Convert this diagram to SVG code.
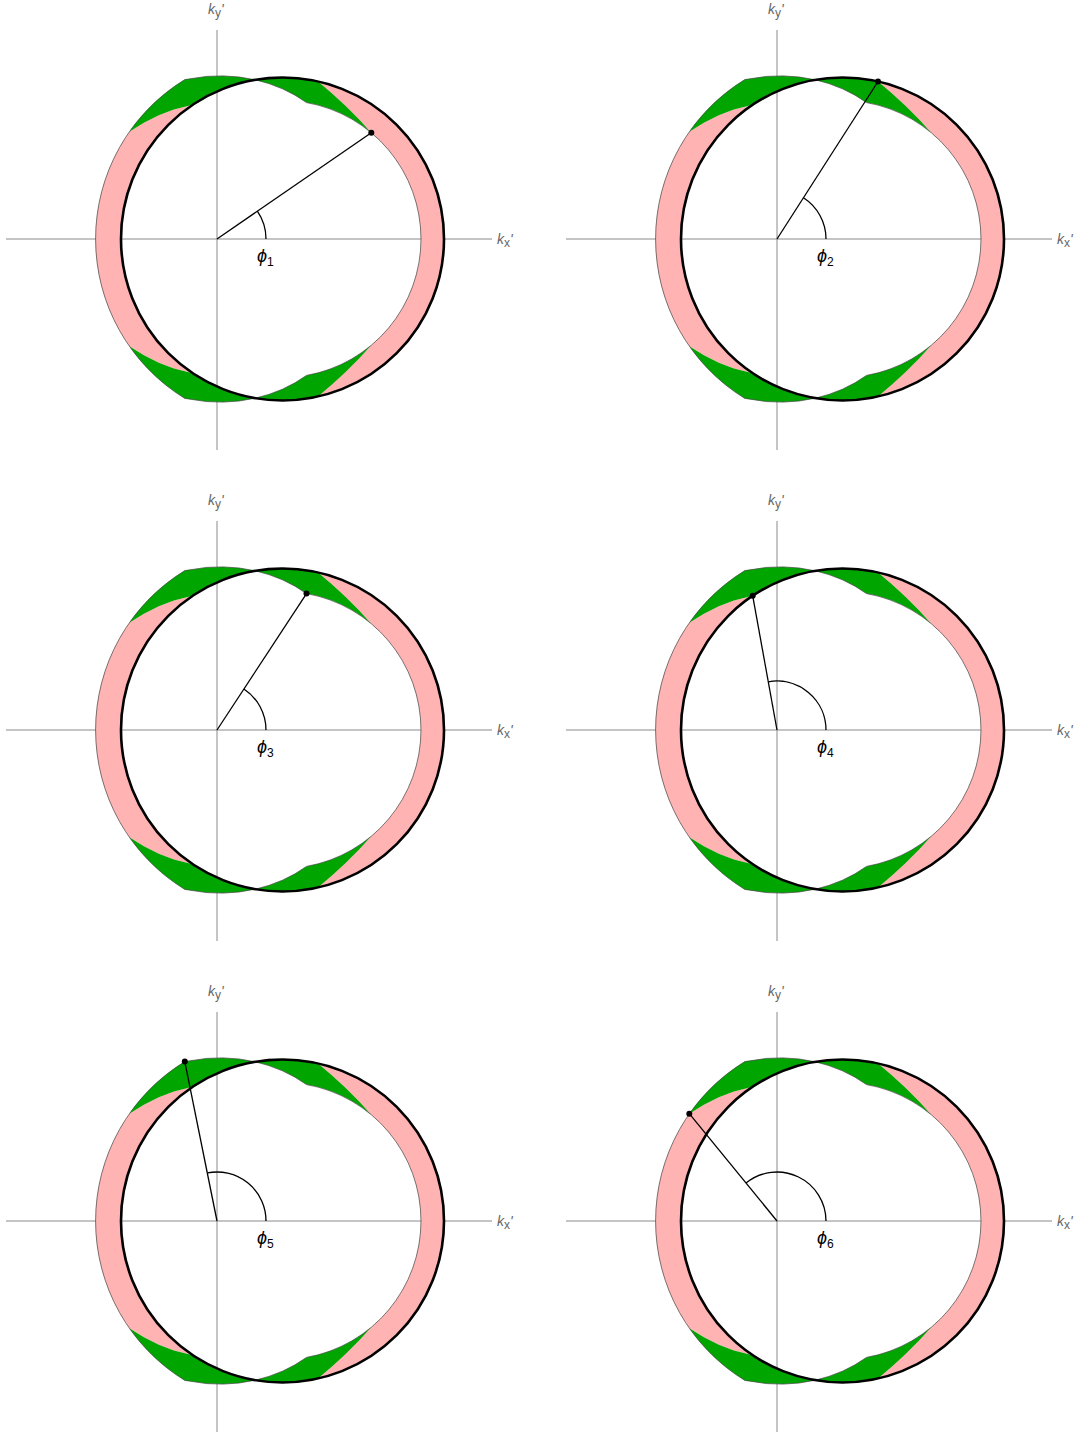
<svg xmlns="http://www.w3.org/2000/svg" width="1080" height="1435" viewBox="0 0 1080 1435">
<style>
.ax{stroke:#8a8a8a;stroke-width:1;fill:none}
.pink{fill:#ffb3b3}
.green{fill:#00a500}
.outl{fill:none;stroke:#444;stroke-width:0.7;stroke-linejoin:round}
.fs{fill:none;stroke:#000;stroke-width:2.6}
.rad{stroke:#000;stroke-width:1.3;fill:none}
.dot{fill:#000}
.lab{font-family:"Liberation Sans",Arial,sans-serif;font-style:italic;font-size:14px;fill:#666}
.phi{font-family:"Liberation Sans","DejaVu Sans",sans-serif;font-style:italic;font-size:18px;fill:#000}
.sub{font-size:12px;font-style:normal}
</style>
<defs>
<g id="gtop">
<path class="green" d="M-87.7,-107.3 A187,187 0 0 1 -32.2,-159.4 L-10.3,-162.6 L6.1,-163.1 L22.1,-162.0 L38.3,-159.2 A161.5,161.5 0 0 0 -24.3,-134.2 L-43.1,-129.5 L-58.2,-123.7 L-73.1,-116.3 Z"/>
<path class="green" d="M38.3,-159.2 A161.5,161.5 0 0 1 101,-157.5 Q129.8,-134.1 154.3,-106.3 A138.5,138.5 0 0 0 89.5,-136.4 L78.1,-143.8 L65.5,-150.2 L51.9,-155.4 Z"/>
</g>
<g id="frame">
<line class="ax" x1="-211" y1="0" x2="275" y2="0"/>
<line class="ax" x1="0" y1="-209" x2="0" y2="211"/>
<text class="lab" x="-9" y="-225">k<tspan class="sub" font-style="italic" dy="3">y</tspan><tspan dy="-3">'</tspan></text>
<text class="lab" x="280" y="5">k<tspan class="sub" font-style="italic" dy="3">x</tspan><tspan dy="-3">'</tspan></text>
<path class="pink" d="M-87.7,-107.3 A187,187 0 0 0 -87.7,107.3 L-73.1,116.3 L-58.2,123.7 L-43.1,129.5 L-24.3,134.2 A161.5,161.5 0 0 1 -24.3,-134.2 L-43.1,-129.5 L-58.2,-123.7 L-73.1,-116.3 Z"/>
<path class="pink" d="M101,-157.5 A161.5,161.5 0 0 1 101,157.5 Q129.8,134.1 154.3,106.3 A138.5,138.5 0 0 0 154.3,-106.3 Q129.8,-134.1 101,-157.5 Z"/>
<use href="#gtop"/>
<use href="#gtop" transform="scale(1,-1)"/>
<path class="outl" d="M-32.2,-159.4 A187,187 0 0 0 -32.2,159.4 L-10.3,162.6 L6.1,163.1 L22.1,162.0 L38.3,159.2 L51.9,155.4 L65.5,150.2 L78.1,143.8 L89.5,136.4 A138.5,138.5 0 0 0 89.5,-136.4 L78.1,-143.8 L65.5,-150.2 L51.9,-155.4 L38.3,-159.2 L22.1,-162.0 L6.1,-163.1 L-10.3,-162.6 Z"/>
<circle class="fs" cx="65.5" cy="0" r="161.5"/>
</g>
</defs>
<g id="panel1" transform="translate(217,239)">
<use href="#frame"/>
<line class="rad" x1="0" y1="0" x2="154.3" y2="-106.3"/>
<path class="rad" d="M49,0 A49,49 0 0 0 40.35,-27.79"/>
<circle class="dot" cx="154.3" cy="-106.3" r="3"/>
<text class="phi" x="40" y="23">ϕ<tspan class="sub" dy="4">1</tspan></text>
</g>
<g id="panel2" transform="translate(777,239)">
<use href="#frame"/>
<line class="rad" x1="0" y1="0" x2="101" y2="-157.5"/>
<path class="rad" d="M49,0 A49,49 0 0 0 26.45,-41.25"/>
<circle class="dot" cx="101" cy="-157.5" r="3"/>
<text class="phi" x="40" y="23">ϕ<tspan class="sub" dy="4">2</tspan></text>
</g>
<g id="panel3" transform="translate(217,730)">
<use href="#frame"/>
<line class="rad" x1="0" y1="0" x2="89.5" y2="-136.4"/>
<path class="rad" d="M49,0 A49,49 0 0 0 26.88,-40.97"/>
<circle class="dot" cx="89.5" cy="-136.4" r="3"/>
<text class="phi" x="40" y="23">ϕ<tspan class="sub" dy="4">3</tspan></text>
</g>
<g id="panel4" transform="translate(777,730)">
<use href="#frame"/>
<line class="rad" x1="0" y1="0" x2="-24.3" y2="-134.2"/>
<path class="rad" d="M49,0 A49,49 0 0 0 -8.73,-48.22"/>
<circle class="dot" cx="-24.3" cy="-134.2" r="3"/>
<text class="phi" x="40" y="23">ϕ<tspan class="sub" dy="4">4</tspan></text>
</g>
<g id="panel5" transform="translate(217,1221)">
<use href="#frame"/>
<line class="rad" x1="0" y1="0" x2="-32.2" y2="-159.4"/>
<path class="rad" d="M49,0 A49,49 0 0 0 -9.70,-48.03"/>
<circle class="dot" cx="-32.2" cy="-159.4" r="3"/>
<text class="phi" x="40" y="23">ϕ<tspan class="sub" dy="4">5</tspan></text>
</g>
<g id="panel6" transform="translate(777,1221)">
<use href="#frame"/>
<line class="rad" x1="0" y1="0" x2="-87.7" y2="-107.3"/>
<path class="rad" d="M49,0 A49,49 0 0 0 -31.0,-37.95"/>
<circle class="dot" cx="-87.7" cy="-107.3" r="3"/>
<text class="phi" x="40" y="23">ϕ<tspan class="sub" dy="4">6</tspan></text>
</g>
</svg>
